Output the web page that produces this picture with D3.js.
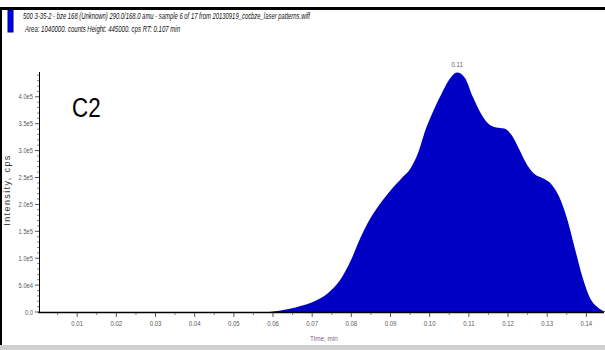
<!DOCTYPE html>
<html><head><meta charset="utf-8">
<script src="https://cdn.jsdelivr.net/npm/d3@7/dist/d3.min.js"></script>
<style>html,body{margin:0;padding:0;background:#fff;}svg{display:block;}</style>
</head><body>
<svg id="chart" width="605" height="350"></svg>
<script>
// ---- data ----
const times = [0.000,0.058,0.062,0.066,0.070,0.074,0.077,0.080,0.082,0.084,0.087,0.090,0.093,0.095,0.097,0.099,0.101,0.103,0.105,0.107,0.109,0.111,0.113,0.115,0.117,0.119,0.121,0.123,0.125,0.127,0.129,0.131,0.133,0.135,0.137,0.139,0.141,0.143,0.145];
const intensity = [0,0,3000,9000,18000,35000,58000,98000,133000,163000,198000,226000,250000,266000,295000,340000,375000,405000,432000,445000,435000,400000,370000,350000,343000,341000,328000,300000,272000,255000,248000,238000,215000,175000,120000,65000,25000,8000,0];
const xTicks = [0.01,0.02,0.03,0.04,0.05,0.06,0.07,0.08,0.09,0.10,0.11,0.12,0.13,0.14];
const xTickLabels = ["0.01","0.02","0.03","0.04","0.05","0.06","0.07","0.08","0.09","0.10","0.11","0.12","0.13","0.14"];
const yTicks = [0,50000,100000,150000,200000,250000,300000,350000,400000];
const yTickLabels = ["0.0","5.0e4","1.0e5","1.5e5","2.0e5","2.5e5","3.0e5","3.5e5","4.0e5"];
const titleLine1 = "500 3-35-2 - bze 168 (Unknown) 290.0/168.0 amu - sample 6 of 17 from 20130919_cocbze_laser patterns.wiff";
const titleLine2 = "Area: 1040000. counts  Height: 445000. cps  RT: 0.107 min";
const peakLabel = {t:0.107, v:445000, text:"0.11"};
const panelLabel = "C2";

const svg = d3.select("#chart");
const x = d3.scaleLinear().domain([0, 0.1445]).range([38, 604]);
const y = d3.scaleLinear().domain([0, 445000]).range([312, 72.6]);

// frame
svg.append("rect").attr("x",0).attr("y",7).attr("width",605).attr("height",3).attr("fill","#000");
svg.append("rect").attr("x",0).attr("y",7).attr("width",2).attr("height",338).attr("fill","#000");
svg.append("rect").attr("x",0).attr("y",345).attr("width",605).attr("height",5).attr("fill","#cfcfcf");

// legend swatch + titles
svg.append("rect").attr("x",8).attr("y",10).attr("width",5).attr("height",22)
  .attr("fill","#0000ff").attr("stroke","#00006a").attr("stroke-width",1);
svg.append("text").attr("x",23).attr("y",19).attr("font-family","Liberation Sans, Arial, sans-serif")
  .attr("font-size",9).attr("font-style","italic").attr("fill","#111")
  .attr("textLength",287).attr("lengthAdjust","spacingAndGlyphs").text(titleLine1);
svg.append("text").attr("x",25).attr("y",32).attr("font-family","Liberation Sans, Arial, sans-serif")
  .attr("font-size",9).attr("font-style","italic").attr("fill","#111")
  .attr("textLength",155).attr("lengthAdjust","spacingAndGlyphs").text(titleLine2);

// area
const area = d3.area().x((d,i)=>x(times[i])).y0(y(0)).y1((d)=>y(d)).curve(d3.curveMonotoneX);
svg.append("path").datum(intensity).attr("d",area).attr("fill","#0000c4");

// axes
const minorX = d3.range(0.005, 0.145, 0.01);
const minorY = d3.range(10000, 445000, 10000).filter(v=>v%50000!==0);
const ax = svg.append("g").attr("stroke","#000");
ax.append("line").attr("x1",38).attr("x2",604).attr("y1",312.5).attr("y2",312.5).attr("stroke-width",1.3);
ax.append("line").attr("x1",39.5).attr("x2",39.5).attr("y1",72).attr("y2",312.5).attr("stroke-width",1);
ax.selectAll(".mx").data(xTicks).join("line").attr("x1",d=>x(d)).attr("x2",d=>x(d)).attr("y1",313).attr("y2",317).attr("stroke","#555");
ax.selectAll(".nx").data(minorX).join("line").attr("x1",d=>x(d)).attr("x2",d=>x(d)).attr("y1",313).attr("y2",315).attr("stroke","#777");
ax.selectAll(".my").data(yTicks).join("line").attr("x1",35).attr("x2",39).attr("y1",d=>y(d)).attr("y2",d=>y(d)).attr("stroke","#555");
ax.selectAll(".ny").data(minorY).join("line").attr("x1",37).attr("x2",39).attr("y1",d=>y(d)).attr("y2",d=>y(d)).attr("stroke","#888");

const lblFont = "Liberation Sans, Arial, sans-serif";
svg.selectAll(".xl").data(xTicks).join("text")
  .attr("transform",(d)=>`translate(${x(d)},326) scale(0.75,1)`)
  .attr("text-anchor","middle").attr("font-family",lblFont).attr("font-size",8).attr("fill","#5a5a5a")
  .text((d,i)=>xTickLabels[i]);
svg.selectAll(".yl").data(yTicks).join("text")
  .attr("transform",(d)=>`translate(33,${y(d)+2.5}) scale(0.72,1)`)
  .attr("text-anchor","end").attr("font-family",lblFont).attr("font-size",8).attr("fill","#5a5a5a")
  .text((d,i)=>yTickLabels[i]);

// axis titles
svg.append("text").attr("transform","translate(324,341) scale(0.8,1)").attr("text-anchor","middle")
  .attr("font-family",lblFont).attr("font-size",8).attr("fill","#8a5f8a").text("Time, min");
svg.append("text").attr("transform","translate(10,190) rotate(-90)").attr("text-anchor","middle")
  .attr("font-family",lblFont).attr("font-size",9).attr("letter-spacing",1.4).attr("fill","#333").text("Intensity, cps");

// peak label
svg.append("text").attr("transform",`translate(${x(peakLabel.t)},${y(peakLabel.v)-6}) scale(0.75,1)`)
  .attr("text-anchor","middle").attr("font-family",lblFont).attr("font-size",8).attr("fill","#5a5a5a").text(peakLabel.text);

// panel label
svg.append("text").attr("transform","translate(72,117) scale(0.8,1)")
  .attr("font-family",lblFont).attr("font-size",28).attr("fill","#000").text(panelLabel);
</script>
</body></html>
